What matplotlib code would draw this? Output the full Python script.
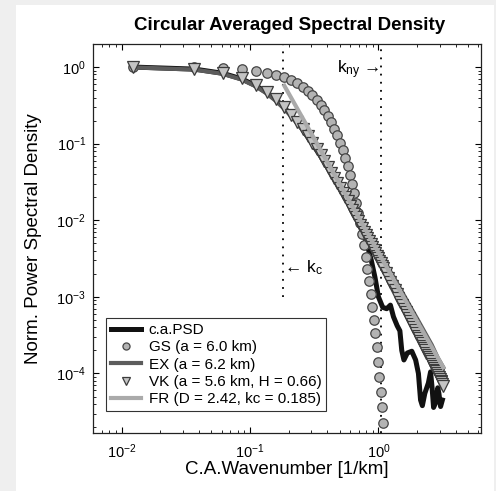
import matplotlib
matplotlib.use("Agg")
import matplotlib.pyplot as plt
from matplotlib.patches import Rectangle

# ------------------ CONFIG ------------------
plt.rcParams.update({
    "font.family": ["Liberation Sans", "DejaVu Sans"],
    "mathtext.fontset": "custom",
    "mathtext.rm": "Liberation Sans",
    "mathtext.it": "Liberation Sans",
    "mathtext.default": "regular",
    "font.size": 10,
})

# ------------------ DATA ------------------
# wavenumber grid of the spectrum [1/km]
k_grid = [0.01225, 0.03675, 0.06125, 0.08575, 0.11025, 0.13475, 0.15925, 0.18375,
          0.20825, 0.23275, 0.25725, 0.28175, 0.30625, 0.33075, 0.35525, 0.37975,
          0.40425, 0.42875, 0.45325, 0.47775, 0.50225, 0.52675, 0.55125, 0.57575,
          0.60025, 0.62475, 0.64925, 0.67375, 0.69825, 0.72275, 0.74725, 0.77175,
          0.79625, 0.82075, 0.84525, 0.86975, 0.89425, 0.91875, 0.94325, 0.96775,
          0.99225, 1.01675, 1.04125, 1.06575, 1.09025]
k_high = [1.139, 1.188, 1.237, 1.286, 1.335, 1.384, 1.433, 1.482, 1.531, 1.580,
          1.629, 1.678, 1.727, 1.776, 1.825, 1.874, 1.923, 1.972, 2.021, 2.070,
          2.119, 2.168, 2.217, 2.266, 2.315, 2.364, 2.413, 2.462, 2.511, 2.560,
          2.609, 2.658, 2.707, 2.756, 2.805, 2.854, 2.903, 2.952, 3.001, 3.050,
          3.099, 3.148, 3.197]

# Gaussian model (circles)
psd_gs = [1.0, 0.988, 0.967, 0.936, 0.896, 0.849, 0.796, 0.738, 0.677, 0.614,
          0.551, 0.489, 0.430, 0.374, 0.321, 0.273, 0.230, 0.191, 0.157, 0.128,
          0.103, 0.0823, 0.0649, 0.0506, 0.0391, 0.0298, 0.0225, 0.0168, 0.0124,
          0.00908, 0.00657, 0.00470, 0.00333, 0.00233, 0.00161, 0.00110, 7.48e-4,
          5.02e-4, 3.33e-4, 2.19e-4, 1.42e-4, 9.1e-5, 5.8e-5, 3.6e-5, 2.25e-5]

# von Karman model (triangles)
psd_vk = [0.992, 0.933, 0.831, 0.709, 0.585, 0.473, 0.379, 0.302, 0.240, 0.192,
          0.155, 0.126, 0.103, 0.0845, 0.0701, 0.0586, 0.0494, 0.0419, 0.0357,
          0.0307, 0.0265, 0.0230, 0.0201, 0.0176, 0.0155, 0.0137, 0.0122, 0.0109,
          0.00974, 0.00874, 0.00787, 0.00711, 0.00645, 0.00586, 0.00533, 0.00487,
          0.00446, 0.00409, 0.00376, 0.00346, 0.00319, 0.00295, 0.00273, 0.00254,
          0.00236,
          2.05e-3, 1.785e-3, 1.565e-3, 1.378e-3, 1.221e-3, 1.085e-3, 9.68e-4,
          8.68e-4, 7.80e-4, 7.04e-4, 6.37e-4, 5.77e-4, 5.25e-4, 4.79e-4, 4.38e-4,
          4.02e-4, 3.69e-4, 3.40e-4, 3.13e-4, 2.89e-4, 2.68e-4, 2.49e-4, 2.31e-4,
          2.15e-4, 2.00e-4, 1.87e-4, 1.745e-4, 1.633e-4, 1.530e-4, 1.436e-4,
          1.349e-4, 1.269e-4, 1.194e-4, 1.125e-4, 1.062e-4, 1.003e-4, 9.48e-5,
          8.97e-5, 8.49e-5, 8.04e-5, 7.63e-5, 7.25e-5, 6.9e-5]

# exponential model (dark line)
k_ex = [0.01225, 0.037, 0.061, 0.086, 0.11, 0.135, 0.16, 0.184, 0.21, 0.25, 0.3,
        0.35, 0.4, 0.5, 0.6, 0.7, 0.8, 0.9, 1.0, 1.2, 1.4, 1.6, 1.8, 2.0, 2.3,
        2.6, 2.9, 3.2]
psd_ex = [0.991, 0.926, 0.818, 0.687, 0.564, 0.451, 0.358, 0.286, 0.226, 0.159,
          0.106, 0.0733, 0.0523, 0.0289, 0.0175, 0.0113, 0.00772, 0.00549,
          0.00404, 0.00236, 0.0015, 0.00101, 7.1e-4, 5.2e-4, 3.42e-4, 2.37e-4,
          1.6e-4, 1.2e-4]

# fractal model (light line, starts at kc)
k_fr = [0.185, 3.2]
psd_fr = [0.57, 1.2e-4]

# measured circular averaged PSD
k_psd = [0.01225, 0.037, 0.061, 0.086, 0.11, 0.135, 0.16, 0.184, 0.21, 0.25, 0.3,
         0.35, 0.4, 0.5, 0.6, 0.7, 0.76, 0.82, 0.88, 0.94, 1.0, 1.08, 1.16, 1.24,
         1.31, 1.40, 1.47, 1.52, 1.58, 1.68, 1.82, 1.95, 2.05, 2.13, 2.20, 2.30,
         2.45, 2.55, 2.62, 2.69, 2.80, 2.90, 2.96, 3.05, 3.15]
psd_ca = [1.0, 0.94, 0.83, 0.70, 0.575, 0.465, 0.372, 0.296, 0.235, 0.163, 0.104,
          0.071, 0.049, 0.026, 0.015, 0.0092, 0.0068, 0.0047, 0.0030, 0.0018,
          1.0e-3, 7.3e-4, 7.0e-4, 7.8e-4, 5.5e-4, 4.2e-4, 3.6e-4, 2.0e-4, 1.5e-4,
          1.85e-4, 1.95e-4, 1.5e-4, 1.0e-4, 4.5e-5, 3.8e-5, 5.5e-5, 7.5e-5,
          1.05e-4, 6.5e-5, 3.6e-5, 4.2e-5, 6.5e-5, 5.5e-5, 3.7e-5, 4.5e-5]

labels = ["c.a.PSD", "GS (a = 6.0 km)", "EX (a = 6.2 km)",
          "VK (a = 5.6 km, H = 0.66)", "FR (D = 2.42, kc = 0.185)"]

k_c = 0.182
k_ny = 1.04

# ------------------ PLOT ------------------
fig = plt.figure(figsize=(4.96, 4.91), dpi=100, facecolor="#efefef")
fig.patches.append(Rectangle((16 / 496, 0), 478 / 496, 486 / 491,
                             transform=fig.transFigure, facecolor="white",
                             edgecolor="none", zorder=-10))

ax = fig.add_axes([93 / 496, 1 - 433 / 491, 388 / 496, 389 / 491])
ax.set_zorder(1)

ax.plot(k_psd, psd_ca, color="#111111", lw=3.6, label=labels[0],
        solid_joinstyle="round", zorder=2)
ax.plot(k_grid, psd_gs, ls="none", marker="o", ms=6.8, mfc="#b3b3b3",
        mec="#454545", mew=0.9, label=labels[1], zorder=3)
ax.plot(k_ex, psd_ex, color="#5c5c5c", lw=3.0, label=labels[2], zorder=4)
ax.plot(k_grid + k_high, psd_vk, ls="none", marker="v", ms=8.3, mfc="#c4c4c4",
        mec="#3c3c3c", mew=0.9, label=labels[3], zorder=5)
ax.plot(k_fr, psd_fr, color="#aaaaaa", lw=3.0, label=labels[4], zorder=6)

# cut-off and Nyquist wavenumbers
ax.plot([k_c, k_c], [1e-3, 2.0], color="black", lw=1.3, ls=(0, (1, 3.5)), zorder=1)
ax.plot([k_ny, k_ny], [1.67e-5, 2.0], color="black", lw=1.3, ls=(0, (1, 3.5)), zorder=1)
ax.text(k_c * 1.01, 2.4e-3, "\u2190 k$_c$", fontsize=12.5, ha="left", va="center")
ax.text(k_ny * 0.99, 0.92, "k$_{ny}$ \u2192", fontsize=12.5, ha="right", va="center")

ax.set_xscale("log")
ax.set_yscale("log")
ax.set_xlim(0.00597, 6.3)
ax.set_ylim(1.67e-5, 2.0)

ax.tick_params(which="both", direction="in", top=True, right=True, labelsize=10.5)
ax.tick_params(which="major", length=4, width=0.8)
ax.tick_params(which="minor", length=2, width=0.6)
ax.tick_params(axis="y", pad=5)
ax.tick_params(axis="x", pad=7)
for s in ax.spines.values():
    s.set_linewidth(0.9)
    s.set_color("#222222")

ax.set_xlabel("C.A.Wavenumber [1/km]", fontsize=13.5)
ax.set_ylabel("Norm. Power Spectral Density", fontsize=13.5)
ax.xaxis.set_label_coords(0.5, -0.072)
ax.yaxis.set_label_coords(-0.132, 0.5)

fig.text(290 / 496, 1 - 25 / 491, "Circular Averaged Spectral Density",
         fontsize=13.5, fontweight="bold", ha="center", va="center")

leg = ax.legend(loc="lower left", bbox_to_anchor=(13 / 388, 22 / 389),
                fontsize=11, frameon=True, fancybox=False, edgecolor="black",
                handlelength=2.0, handletextpad=0.5, labelspacing=0.22,
                borderpad=0.3, borderaxespad=0, markerscale=0.75)
leg.get_frame().set_linewidth(0.8)

fig.savefig("out.png", dpi=100, facecolor=fig.get_facecolor())
